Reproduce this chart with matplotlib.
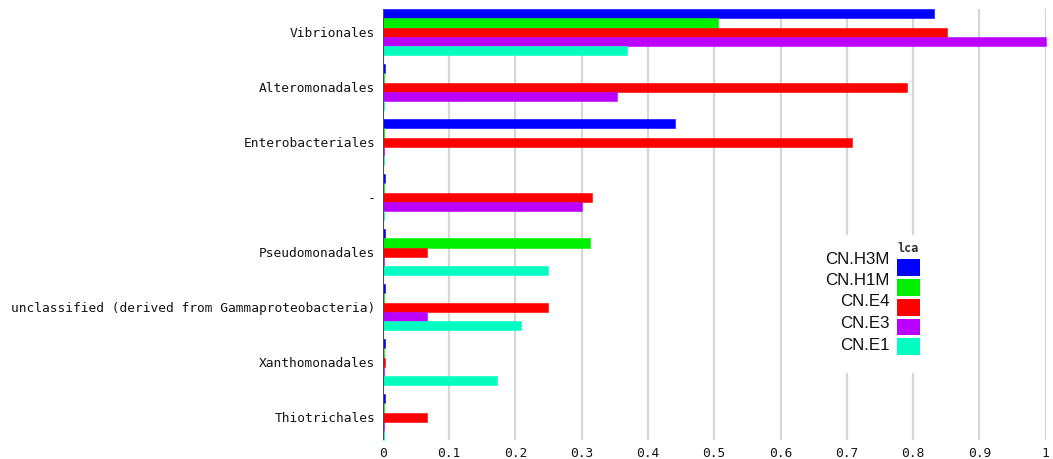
import numpy as np
import matplotlib
matplotlib.use("Agg")
import matplotlib.pyplot as plt
from matplotlib.patches import Rectangle

# Orders (top to bottom) and relative abundance per sample
orders = [
    "Vibrionales",
    "Alteromonadales",
    "Enterobacteriales",
    "-",
    "Pseudomonadales",
    "unclassified (derived from Gammaproteobacteria)",
    "Xanthomonadales",
    "Thiotrichales",
]
samples = ["CN.H3M", "CN.H1M", "CN.E4", "CN.E3", "CN.E1"]

cn_h3m = [0.831, 0.004, 0.441, 0.004, 0.004, 0.004, 0.004, 0.004]
cn_h1m = [0.505, 0.002, 0.002, 0.002, 0.312, 0.002, 0.002, 0.002]
cn_e4 = [0.851, 0.791, 0.708, 0.316, 0.067, 0.250, 0.003, 0.067]
cn_e3 = [1.000, 0.354, 0.002, 0.301, 0.002, 0.067, 0.002, 0.002]
cn_e1 = [0.369, 0.002, 0.002, 0.002, 0.249, 0.209, 0.172, 0.002]

series = [cn_h3m, cn_h1m, cn_e4, cn_e3, cn_e1]
colors = ["#0000FF", "#00F000", "#FF0000", "#BB00FF", "#00FFC0"]

xticks = [0, 0.1, 0.2, 0.3, 0.4, 0.5, 0.6, 0.7, 0.8, 0.9, 1.0]
xtick_labels = ["0", "0.1", "0.2", "0.3", "0.4", "0.5", "0.6", "0.7", "0.8", "0.9", "1"]

W, H = 1053, 459
fig = plt.figure(figsize=(W / 100, H / 100), dpi=100)
fig.patch.set_facecolor("white")


def fx(px):
    return px / W


def fy(py):
    return 1 - py / H


ax = fig.add_axes([fx(382.7), fy(440), fx(1045.7) - fx(382.7), (440 - 9.3) / H])

n_groups = len(orders)
n_series = len(series)
bar_h = 0.166
idx = np.arange(n_groups)

for j, (vals, col) in enumerate(zip(series, colors)):
    ax.barh(idx + (j - (n_series - 1) / 2) * bar_h, vals, height=bar_h,
            color=col, edgecolor=col, linewidth=0.4, zorder=3, clip_on=False)

half = n_series * bar_h / 2
ax.set_ylim(n_groups - 1 + half, -half)
ax.set_xlim(0, 1.0)

ax.set_yticks(idx)
ax.set_yticklabels(orders, fontfamily="DejaVu Sans Mono", fontsize=9.3, color="#151515")
ax.set_xticks(xticks)
ax.set_xticklabels(xtick_labels, fontfamily="DejaVu Sans Mono", fontsize=9.3, color="#151515")
ax.tick_params(axis="both", length=0)
ax.tick_params(axis="y", pad=5.5)
ax.tick_params(axis="x", pad=5)

for s in ax.spines.values():
    s.set_visible(False)

ax.grid(axis="x", color="#d6d6d6", linewidth=1.6, zorder=0)
ax.set_axisbelow(True)
ax.axvline(0, color="#505050", linewidth=1.5, zorder=4)

# Legend: white panel, labels on the left, colour swatches on the right
fig.patches.append(Rectangle((fx(805), fy(373)), fx(925) - fx(805), (373 - 235) / H,
                             transform=fig.transFigure, facecolor="white",
                             edgecolor="none", zorder=5))
fig.text(fx(908.5), fy(249), "lca", ha="center", va="center",
         fontfamily="DejaVu Sans Mono", fontweight="bold", fontsize=8.5,
         color="#333333", zorder=6)
label_y = [259.3, 280.2, 301.7, 323.4, 345.3]
swatch_top = [259.3, 279.3, 299.0, 318.5, 338.3]
for name, col, ly, st in zip(samples, colors, label_y, swatch_top):
    fig.text(fx(889.5), fy(ly), name, ha="right", va="center",
             fontfamily="Liberation Sans", fontsize=12.2, color="#111111", zorder=6)
    fig.patches.append(Rectangle((fx(897), fy(st + 16.7)), fx(920) - fx(897), 16.7 / H,
                                 transform=fig.transFigure, facecolor=col,
                                 edgecolor="none", zorder=6))

fig.savefig("out.png", dpi=100, facecolor="white")
